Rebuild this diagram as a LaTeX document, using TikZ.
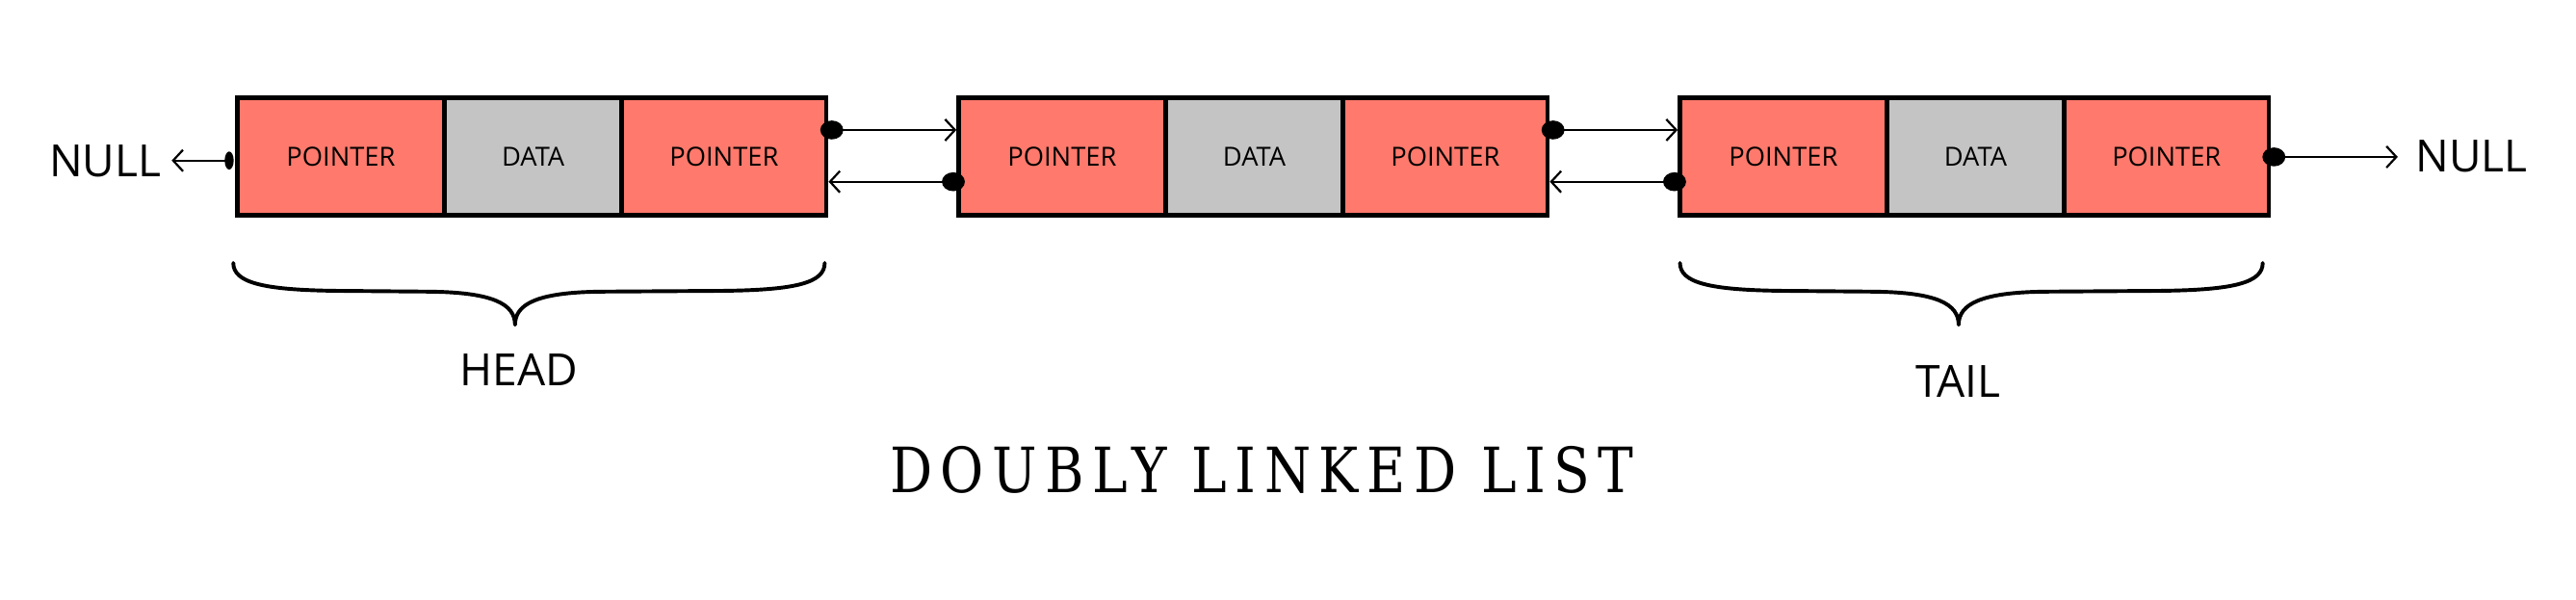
\documentclass[tikz,border=0pt]{standalone}
\usepackage{fontspec}
\setmainfont{Open Sans}
\newfontfamily\titlefont[FakeStretch=0.85,LetterSpace=13]{DejaVu Serif}
\usetikzlibrary{arrows.meta,shapes.geometric}
\definecolor{salmon}{RGB}{255,121,108}
\definecolor{cellgray}{RGB}{196,196,196}
\begin{document}
\begin{tikzpicture}[x=1pt,y=-1pt,
  cell/.style={draw=black,line width=2.7pt,minimum height=71.3pt,inner sep=0pt,outer sep=0pt,font=\fontsize{16}{19}\selectfont},
  ptr/.style={cell,fill=salmon,minimum width=126pt},
  dat/.style={cell,fill=cellgray,minimum width=108pt},
  ptrb/.style={cell,fill=salmon,minimum width=124.5pt},
  dot/.style={ellipse,fill=black,inner sep=0pt,outer sep=0pt,minimum width=14pt,minimum height=11.5pt},
  link/.style={line width=1.3pt,-{Straight Barb[length=6pt,width=13pt]}},
  brace/.style={line width=2.3pt,line cap=round,line join=round},
  big/.style={font=\fontsize{27}{31}\selectfont,inner sep=0pt},
]
\useasboundingbox (0,0) rectangle (1568,365);
% node 1
\node[ptr]  (p1a) at (207.5,95.25) {POINTER};
\node[dat]  (d1)  at (324.5,95.25) {DATA};
\node[ptrb] (p1b) at (440.75,95.25) {POINTER};
% node 2
\node[ptr]  (p2a) at (646.5,95.25) {POINTER};
\node[dat]  (d2)  at (763.5,95.25) {DATA};
\node[ptrb] (p2b) at (879.75,95.25) {POINTER};
% node 3
\node[ptr]  (p3a) at (1085.5,95.25) {POINTER};
\node[dat]  (d3)  at (1202.5,95.25) {DATA};
\node[ptrb] (p3b) at (1318.75,95.25) {POINTER};
% NULL labels
\node[big] (nullL) at (64,98) {NULL};
\node[big] (nullR) at (1504.5,95) {NULL};
\coordinate (nl) at (104.5,97.7);
\coordinate (nr) at (1459.5,95.5);
% dot positions
\coordinate (c1l) at (139.5,97.7);
\coordinate (c1r) at (506.3,79.1);
\coordinate (c2l) at (580.3,110.6);
\coordinate (c2r) at (945.3,79.1);
\coordinate (c3l) at (1019.3,110.6);
\coordinate (c3r) at (1384.1,95.5);
% links
\draw[link] (c1l) -- (nl);
\draw[link,shorten >=1.35pt] (c1r) -- (p2a.west |- c1r);
\draw[link,shorten >=1.35pt] (c2l) -- (p1b.east |- c2l);
\draw[link,shorten >=1.35pt] (c2r) -- (p3a.west |- c2r);
\draw[link,shorten >=1.35pt] (c3l) -- (p2b.east |- c3l);
\draw[link] (c3r) -- (nr);
% dots
\node[dot,minimum width=5.5pt,minimum height=11pt] (o1l) at (c1l) {};
\node[dot] (o1r) at (c1r) {};
\node[dot] (o2l) at (c2l) {};
\node[dot] (o2r) at (c2r) {};
\node[dot] (o3l) at (c3l) {};
\node[dot] (o3r) at (c3r) {};
% braces
\draw[brace] (142,160) .. controls (142,172) and (160,176.5) .. (205,177) -- (262,177.5) .. controls (300,178) and (313.5,185) .. (313.5,197.7) .. controls (313.5,185) and (327,178) .. (365,177.5) -- (440,177) .. controls (485,176.5) and (502,172) .. (502,160);
\draw[brace] (1022.6,160) .. controls (1022.6,172) and (1040,176.5) .. (1085,177) -- (1141,177.5) .. controls (1179,178) and (1192.2,185) .. (1192.2,197.7) .. controls (1192.2,185) and (1206,178) .. (1244,177.5) -- (1315,177) .. controls (1360,176.5) and (1377.3,172) .. (1377.3,160);
\node[big] (head) at (316,225) {HEAD};
\node[big] (tail) at (1192,232) {TAIL};
\node[inner sep=0pt] (title) at (768,286) {\titlefont\fontsize{38}{41}\selectfont DOUBLY LINKED LIST};
\end{tikzpicture}
\end{document}
